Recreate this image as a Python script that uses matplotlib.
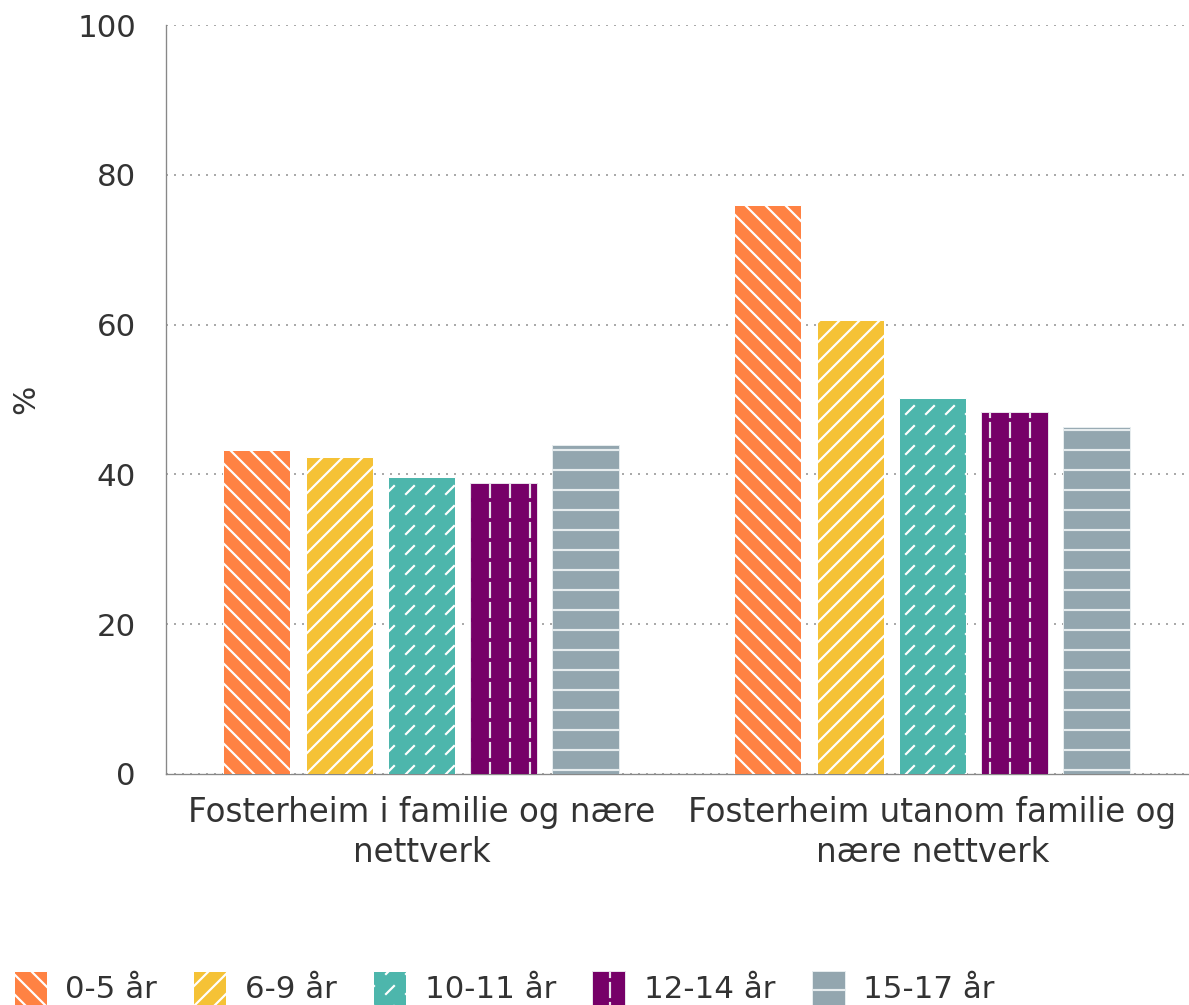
import warnings
import numpy as np
import matplotlib
matplotlib.use("Agg")
import matplotlib.pyplot as plt
import matplotlib.hatch as mhatch
from matplotlib.path import Path

warnings.filterwarnings("ignore")

# ---- data ----
categories = ["Fosterheim i familie og nære\nnettverk",
              "Fosterheim utanom familie og\nnære nettverk"]
series_names = ["0-5 år", "6-9 år", "10-11 år", "12-14 år", "15-17 år"]
v_0_5 = [43.3, 76.0]
v_6_9 = [42.3, 60.6]
v_10_11 = [39.7, 50.2]
v_12_14 = [38.9, 48.3]
v_15_17 = [43.9, 46.3]
values = [v_0_5, v_6_9, v_10_11, v_12_14, v_15_17]
colors = ["#FF8243", "#F5C236", "#4DB6AC", "#760068", "#93A6AF"]
edgecols = ["white", "white", "white", "#E8E0EA", "#E6ECEE"]
hatches = ["\\\\", "//", "d", "v", "-"]
yticks = [0, 20, 40, 60, 80, 100]


# ---- custom hatch patterns ----
class DashedNE(mhatch.HatchPatternBase):
    def __init__(self, hatch, density):
        self.n = int(hatch.count('d') * density)
        self.num_vertices = 2 * self.n * self.n

    def set_vertices_and_codes(self, vertices, codes):
        n = self.n
        s = 1.0 / n
        k = 0
        for i in range(n):
            for j in range(n):
                x0 = i * s + 0.3 * s
                y0 = j * s + 0.3 * s
                vertices[k] = (x0, y0)
                vertices[k + 1] = (x0 + 0.4 * s, y0 + 0.4 * s)
                codes[k] = Path.MOVETO
                codes[k + 1] = Path.LINETO
                k += 2


class DashedVert(mhatch.HatchPatternBase):
    def __init__(self, hatch, density):
        self.n = int(hatch.count('v') * density)
        self.num_vertices = 2 * self.n * self.n

    def set_vertices_and_codes(self, vertices, codes):
        n = self.n
        s = 1.0 / n
        k = 0
        for i in range(n):
            for j in range(n):
                x0 = i * s + 0.5 * s
                y0 = j * s + 0.15 * s
                vertices[k] = (x0, y0)
                vertices[k + 1] = (x0, y0 + 0.7 * s)
                codes[k] = Path.MOVETO
                codes[k + 1] = Path.LINETO
                k += 2


mhatch._hatch_types.extend([DashedNE, DashedVert])

plt.rcParams['font.family'] = ['DejaVu Sans']
plt.rcParams['hatch.linewidth'] = 1.3

DPI = 120
fig = plt.figure(figsize=(1189 / DPI, 1005 / DPI), dpi=DPI)
ax = fig.add_axes([0.1396, 0.2299, 0.8594, 0.7452])

x = np.arange(len(categories))
pitch = 0.161
width = 0.131
for i, (name, vals) in enumerate(zip(series_names, values)):
    offs = (i - 2) * pitch
    ax.bar(x + offs, vals, width, color=colors[i], hatch=hatches[i],
           edgecolor=edgecols[i], linewidth=0.6, label=name, zorder=3)

ax.set_xlim(-0.5, 1.5)
ax.set_ylim(0, 100)
ax.set_yticks(yticks)
ax.set_xticks(x)
ax.set_xticklabels(categories, fontsize=19.5, color="#333333", linespacing=1.28)
ax.tick_params(axis='y', labelsize=18.5, colors="#333333", length=0, pad=18)
ax.tick_params(axis='x', length=0, pad=13)
ax.yaxis.grid(True, linestyle=(0, (1, 3)), color="#aaaaaa", linewidth=1.2, zorder=0)
ax.set_axisbelow(True)
for side in ["top", "right"]:
    ax.spines[side].set_visible(False)
ax.spines["left"].set_color("#888888")
ax.spines["bottom"].set_color("#888888")
ax.set_ylabel("%", fontsize=18.5, color="#333333")
ax.yaxis.set_label_coords(-0.123, 0.5)

leg = fig.legend(loc="lower left", bbox_to_anchor=(-0.004, -0.018), ncol=5,
                 frameon=False, fontsize=18.5, handlelength=1.07, handleheight=1.3,
                 handletextpad=0.6, columnspacing=1.18, borderaxespad=0.2,
                 labelcolor="#333333")

fig.savefig("out.png", dpi=DPI)
